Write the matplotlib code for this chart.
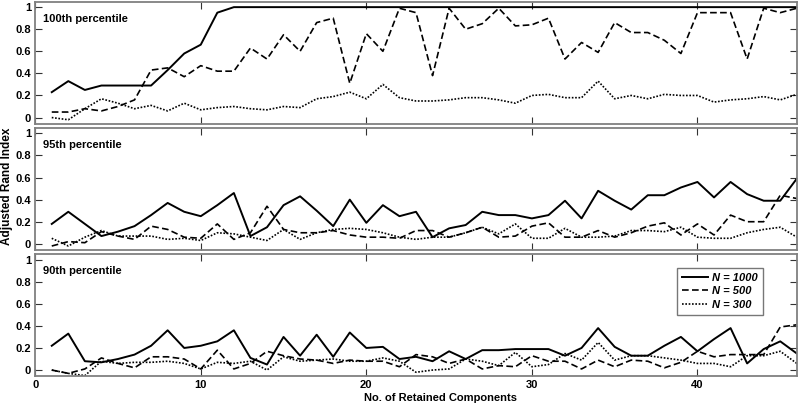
import numpy as np
import matplotlib
matplotlib.use("Agg")
from matplotlib import pyplot as plt

# components 1..46
comps = list(range(1, 47))

# 100th percentile
p100_n1000 = [0.23, 0.33, 0.25, 0.29, 0.29, 0.29, 0.29, 0.43, 0.58, 0.66, 0.95, 1.0,
              1.0, 1.0, 1.0, 1.0, 1.0, 1.0, 1.0, 1.0, 1.0, 1.0, 1.0, 1.0, 1.0, 1.0,
              1.0, 1.0, 1.0, 1.0, 1.0, 1.0, 1.0, 1.0, 1.0, 1.0, 1.0, 1.0, 1.0, 1.0,
              1.0, 1.0, 1.0, 1.0, 1.0, 1.0]
p100_n500 = [0.05, 0.05, 0.08, 0.06, 0.10, 0.16, 0.43, 0.45, 0.37, 0.47, 0.42, 0.42,
             0.63, 0.53, 0.75, 0.60, 0.86, 0.90, 0.31, 0.76, 0.60, 0.99, 0.95, 0.38,
             0.99, 0.80, 0.85, 0.99, 0.83, 0.84, 0.90, 0.53, 0.68, 0.59, 0.86, 0.77,
             0.77, 0.70, 0.58, 0.95, 0.95, 0.95, 0.53, 0.99, 0.95, 0.99]
p100_n300 = [0.0, -0.02, 0.08, 0.17, 0.13, 0.08, 0.11, 0.06, 0.13, 0.07, 0.09, 0.10,
             0.08, 0.07, 0.10, 0.09, 0.17, 0.19, 0.23, 0.17, 0.30, 0.18, 0.15, 0.15,
             0.16, 0.18, 0.18, 0.16, 0.13, 0.20, 0.21, 0.18, 0.18, 0.33, 0.17, 0.20,
             0.17, 0.21, 0.20, 0.20, 0.14, 0.16, 0.17, 0.19, 0.16, 0.21]

# 95th percentile
p95_n1000 = [0.18, 0.29, 0.18, 0.07, 0.11, 0.16, 0.26, 0.37, 0.29, 0.25, 0.35, 0.46,
             0.07, 0.15, 0.35, 0.43, 0.30, 0.16, 0.40, 0.19, 0.35, 0.25, 0.29, 0.06,
             0.14, 0.17, 0.29, 0.26, 0.26, 0.23, 0.26, 0.39, 0.23, 0.48, 0.39, 0.31,
             0.44, 0.44, 0.51, 0.56, 0.42, 0.56, 0.45, 0.39, 0.39, 0.59]
p95_n500 = [-0.02, 0.02, 0.01, 0.11, 0.07, 0.04, 0.16, 0.13, 0.06, 0.05, 0.18, 0.04,
            0.10, 0.34, 0.13, 0.10, 0.10, 0.12, 0.08, 0.06, 0.06, 0.05, 0.12, 0.12,
            0.06, 0.10, 0.15, 0.06, 0.07, 0.16, 0.19, 0.06, 0.06, 0.12, 0.06, 0.10,
            0.16, 0.19, 0.08, 0.18, 0.08, 0.26, 0.20, 0.20, 0.44, 0.41]
p95_n300 = [0.05, -0.02, 0.06, 0.12, 0.07, 0.07, 0.07, 0.04, 0.05, 0.03, 0.10, 0.09,
            0.06, 0.03, 0.13, 0.04, 0.10, 0.13, 0.14, 0.13, 0.10, 0.06, 0.04, 0.06,
            0.06, 0.10, 0.15, 0.09, 0.18, 0.05, 0.05, 0.14, 0.06, 0.06, 0.07, 0.12,
            0.12, 0.11, 0.15, 0.06, 0.05, 0.05, 0.10, 0.13, 0.15, 0.06]

# 90th percentile
p90_n1000 = [0.22, 0.33, 0.08, 0.07, 0.10, 0.14, 0.22, 0.36, 0.20, 0.22, 0.26, 0.36,
             0.11, 0.05, 0.30, 0.13, 0.32, 0.12, 0.34, 0.20, 0.21, 0.10, 0.12, 0.08,
             0.17, 0.10, 0.18, 0.18, 0.19, 0.19, 0.19, 0.13, 0.20, 0.38, 0.21, 0.13,
             0.13, 0.22, 0.30, 0.17, 0.28, 0.38, 0.06, 0.19, 0.26, 0.15]
p90_n500 = [0.0, -0.03, 0.01, 0.11, 0.06, 0.02, 0.12, 0.12, 0.10, 0.01, 0.18, 0.01,
            0.06, 0.17, 0.13, 0.10, 0.09, 0.06, 0.09, 0.08, 0.08, 0.03, 0.14, 0.12,
            0.06, 0.10, 0.01, 0.04, 0.03, 0.13, 0.08, 0.08, 0.01, 0.09, 0.03, 0.09,
            0.08, 0.02, 0.07, 0.17, 0.12, 0.14, 0.14, 0.14, 0.39, 0.41]
p90_n300 = [0.0, -0.03, -0.05, 0.08, 0.06, 0.07, 0.07, 0.08, 0.06, 0.01, 0.07, 0.06,
            0.08, 0.0, 0.12, 0.08, 0.09, 0.10, 0.08, 0.08, 0.11, 0.08, -0.02, 0.0,
            0.01, 0.10, 0.08, 0.04, 0.16, 0.03, 0.05, 0.15, 0.09, 0.25, 0.09, 0.13,
            0.13, 0.11, 0.09, 0.06, 0.06, 0.03, 0.13, 0.13, 0.17, 0.06]

titles = ["100th percentile", "95th percentile", "90th percentile"]
panels = [(p100_n1000, p100_n500, p100_n300),
          (p95_n1000, p95_n500, p95_n300),
          (p90_n1000, p90_n500, p90_n300)]
labels = ["N = 1000", "N = 500", "N = 300"]

plt.rcParams['font.family'] = ['Liberation Sans', 'DejaVu Sans']
plt.rcParams['font.weight'] = 'bold'

fig = plt.figure(figsize=(8, 4.04), dpi=100)
bottoms = [0.694, 0.3815, 0.069]
frame = '#808080'

for i, (ttl, series) in enumerate(zip(titles, panels)):
    ax = fig.add_axes([0.044, bottoms[i], 0.952, 0.302])
    s1000, s500, s300 = series
    ax.plot(comps, s1000, color='black', lw=1.4, ls='-', label=labels[0])
    ax.plot(comps, s500, color='black', lw=1.2, ls=(0, (4, 2)), label=labels[1])
    ax.plot(comps, s300, color='black', lw=1.2, ls=(0, (1, 1)), label=labels[2])
    ax.set_xlim(0, 46)
    ax.set_ylim(-0.055, 1.05)
    ax.set_yticks([0, 0.2, 0.4, 0.6, 0.8, 1])
    ax.set_yticklabels(['0', '0.2', '0.4', '0.6', '0.8', '1'])
    ax.set_xticks([0, 10, 20, 30, 40])
    ax.tick_params(direction='in', top=True, right=True, length=5, width=0.8,
                   color='#333333', labelsize=8, pad=3)
    for sp in ax.spines.values():
        sp.set_color(frame)
        sp.set_linewidth(1.3)
    ax.text(0.0105, 0.86, ttl, transform=ax.transAxes, fontsize=8,
            fontweight='bold', ha='left', va='center')
    if i < 2:
        ax.set_xticklabels([])
    else:
        leg = ax.legend(loc='upper right', bbox_to_anchor=(0.955, 0.886),
                        borderaxespad=0, fancybox=False, handlelength=2.35,
                        handletextpad=0.3, borderpad=0.45,
                        prop={'size': 8, 'weight': 'bold', 'style': 'italic'},
                        labelspacing=0.3)
        leg.get_frame().set_edgecolor('#555555')
        leg.get_frame().set_linewidth(1.0)

fig.text(0.551, 0.016, "No. of Retained Components", fontsize=8,
         fontweight='bold', ha='center', va='center')
fig.text(0.009, 0.54, "Adjusted Rand Index", rotation=90, fontsize=8.5,
         fontweight='bold', ha='center', va='center')

fig.savefig("out.png", dpi=100)
